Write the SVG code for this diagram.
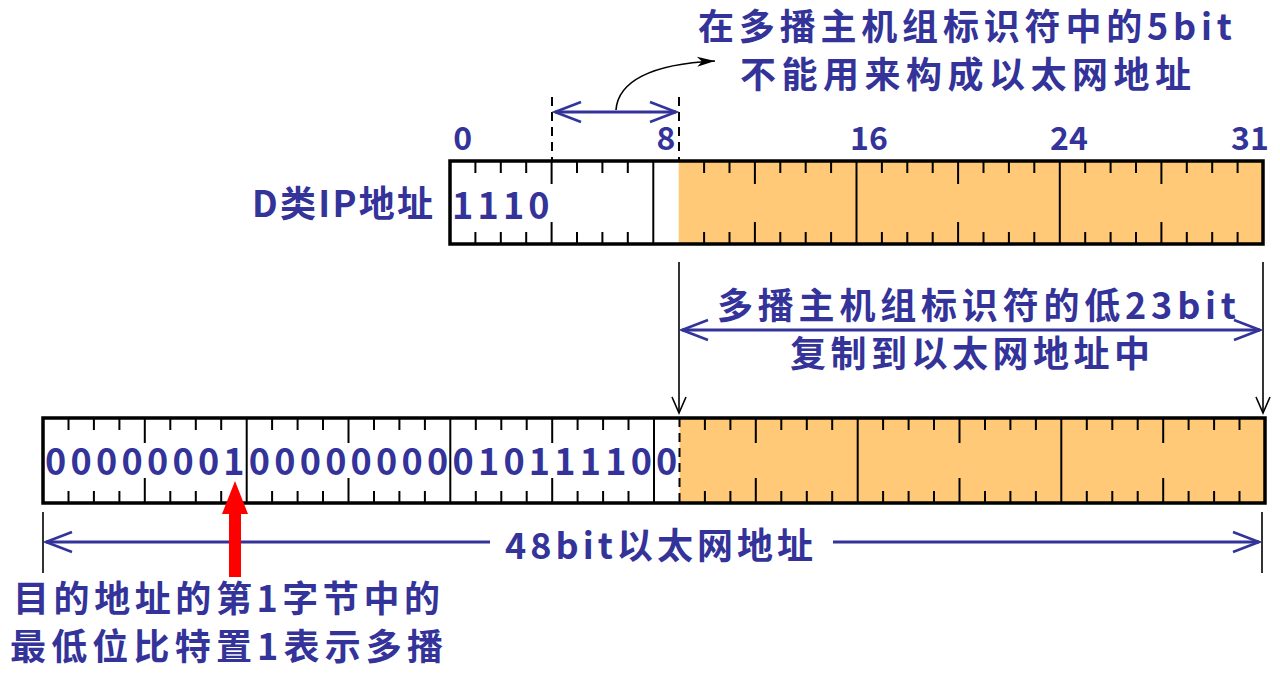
<svg xmlns="http://www.w3.org/2000/svg" width="1280" height="673" viewBox="0 0 1280 673">
<defs>
<style>
.t{font-family:"Noto Sans CJK SC","Noto Sans",sans-serif;font-weight:bold;fill:#333399;}
.big{font-size:36px;}
.num{font-size:32px;}
.dig{font-size:36px;}
.box{fill:none;stroke:#000;stroke-width:3.5;}
.fill{fill:#FFC978;stroke:none;}
.byte{stroke:#000;stroke-width:2;fill:none;}
.tick{stroke:#000;stroke-width:2;fill:none;}
.dash{stroke:#000;stroke-width:2;fill:none;stroke-dasharray:9 6;}
.dim{stroke:#333399;stroke-width:3;fill:none;}
.thin{stroke:#000;stroke-width:1.6;fill:none;}
</style>
<marker id="av" markerUnits="userSpaceOnUse" markerWidth="32" markerHeight="26" viewBox="-29 -13 32 26" refX="0" refY="0" orient="auto-start-reverse">
<path d="M-26,-10 L0,0 L-26,10" fill="none" stroke="#333399" stroke-width="2.5"/>
</marker>
<marker id="bv" markerUnits="userSpaceOnUse" markerWidth="20" markerHeight="20" viewBox="-18 -10 20 20" refX="0" refY="0" orient="auto">
<path d="M-16,-7 L0,0 L-16,7" fill="none" stroke="#000" stroke-width="1.6"/>
</marker>
<marker id="bf" markerUnits="userSpaceOnUse" markerWidth="24" markerHeight="14" viewBox="-20 -7 24 14" refX="0" refY="0" orient="auto">
<path d="M-18,-5 L0,0 L-18,5 L-13,0 Z" fill="#000"/>
</marker>
</defs>
<rect width="1280" height="673" fill="#fff"/>

<g id="note-5bit">
<text class="t big" x="698" y="40" textLength="534" lengthAdjust="spacing">在多播主机组标识符中的5bit</text>
<text class="t big" x="740" y="88" textLength="451" lengthAdjust="spacing">不能用来构成以太网地址</text>
</g>

<g id="bit-labels">
<text class="t num" x="462.7" y="150" text-anchor="middle">0</text>
<text class="t num" x="666" y="150" text-anchor="middle">8</text>
<text class="t num" x="869" y="150" text-anchor="middle">16</text>
<text class="t num" x="1069" y="150" text-anchor="middle">24</text>
<text class="t num" x="1250" y="150" text-anchor="middle">31</text>
</g>

<g id="ip-label">
<text class="t big" x="252" y="217" textLength="181" lengthAdjust="spacing">D类IP地址</text>
</g>

<g id="ip-address">
<rect class="fill" x="678.7" y="161" width="584.3" height="83"/>
<path class="byte" d="M653.3,161V244M856.5,161V244M1059.8,161V244"/>
<path class="tick" d="M475.4,161v12M500.8,161v12M526.2,161v12M577,161v12M602.4,161v12M627.8,161v12M704.1,161v12M729.5,161v12M780.3,161v12M805.7,161v12M831.1,161v12M881.9,161v12M907.3,161v12M932.7,161v12M983.5,161v12M1008.9,161v12M1034.3,161v12M1085.2,161v12M1110.6,161v12M1136,161v12M1186.8,161v12M1212.2,161v12M1237.6,161v12M551.6,161v23M754.9,161v23M958.1,161v23M1161.4,161v23M475.4,244v-12M500.8,244v-12M526.2,244v-12M577,244v-12M602.4,244v-12M627.8,244v-12M704.1,244v-12M729.5,244v-12M780.3,244v-12M805.7,244v-12M831.1,244v-12M881.9,244v-12M907.3,244v-12M932.7,244v-12M983.5,244v-12M1008.9,244v-12M1034.3,244v-12M1085.2,244v-12M1110.6,244v-12M1136,244v-12M1186.8,244v-12M1212.2,244v-12M1237.6,244v-12M551.6,244v-22M754.9,244v-22M958.1,244v-22M1161.4,244v-22"/>
<rect class="box" x="450" y="161" width="813" height="83"/>
<text class="t dig" y="219" text-anchor="middle" x="462.7 488.1 513.5 538.9">1110</text>
</g>

<g id="copy-note">
<text class="t big" x="717" y="319" textLength="519" lengthAdjust="spacing">多播主机组标识符的低23bit</text>
<text class="t big" x="790" y="367" textLength="360" lengthAdjust="spacing">复制到以太网地址中</text>
</g>

<g id="mac-address">
<rect class="fill" x="679.5" y="418" width="585.5" height="85"/>
<path class="byte" d="M246.7,418V503M450.3,418V503M654,418V503M857.7,418V503M1061.3,418V503"/>
<path class="dash" d="M679.5,418V503"/>
<path class="tick" d="M68.5,418v12M93.9,418v12M119.4,418v12M170.3,418v12M195.8,418v12M221.2,418v12M272.1,418v12M297.6,418v12M323,418v12M374,418v12M399.4,418v12M424.9,418v12M475.8,418v12M501.3,418v12M526.7,418v12M577.6,418v12M603.1,418v12M628.5,418v12M704.9,418v12M730.4,418v12M781.3,418v12M806.8,418v12M832.2,418v12M883.1,418v12M908.6,418v12M934,418v12M985,418v12M1010.4,418v12M1035.9,418v12M1086.8,418v12M1112.3,418v12M1137.7,418v12M1188.6,418v12M1214.1,418v12M1239.5,418v12M144.8,418v25M348.5,418v25M552.2,418v25M755.8,418v25M959.5,418v25M1163.2,418v25M68.5,503v-12M93.9,503v-12M119.4,503v-12M170.3,503v-12M195.8,503v-12M221.2,503v-12M272.1,503v-12M297.6,503v-12M323,503v-12M374,503v-12M399.4,503v-12M424.9,503v-12M475.8,503v-12M501.3,503v-12M526.7,503v-12M577.6,503v-12M603.1,503v-12M628.5,503v-12M704.9,503v-12M730.4,503v-12M781.3,503v-12M806.8,503v-12M832.2,503v-12M883.1,503v-12M908.6,503v-12M934,503v-12M985,503v-12M1010.4,503v-12M1035.9,503v-12M1086.8,503v-12M1112.3,503v-12M1137.7,503v-12M1188.6,503v-12M1214.1,503v-12M1239.5,503v-12M144.8,503v-25M348.5,503v-25M552.2,503v-25M755.8,503v-25M959.5,503v-25M1163.2,503v-25"/>
<rect class="box" x="43" y="418" width="1222" height="85"/>
<text class="t dig" y="475" text-anchor="middle" x="55.7 81.2 106.6 132.1 157.6 183 208.5 233.9 259.4 284.9 310.3 335.8 361.2 386.7 412.1 437.6 463.1 488.5 514 539.4 564.9 590.4 615.8 641.3 666.7">0000000100000000010111100</text>
</g>

<g id="mac-label">
<text class="t big" x="505" y="559" textLength="308" lengthAdjust="spacing">48bit以太网地址</text>
</g>

<g id="multicast-note">
<text class="t big" x="13" y="612" textLength="427" lengthAdjust="spacing">目的地址的第1字节中的</text>
<text class="t big" x="10" y="660" textLength="433" lengthAdjust="spacing">最低位比特置1表示多播</text>
</g>

<g id="connectors">
<path class="dash" d="M552,97V160M679,97V160"/>
<path class="dim" d="M555,112H676" marker-start="url(#av)" marker-end="url(#av)"/>
<path class="thin" d="M616,110C618,82 650,64 715,61" marker-end="url(#bf)"/>
<path class="thin" d="M679,262V413" marker-end="url(#bv)"/>
<path class="thin" d="M1263,262V413" marker-end="url(#bv)"/>
<path class="dim" d="M682,330H1260" marker-start="url(#av)" marker-end="url(#av)"/>
<path class="thin" d="M43,512V573M1262,512V573"/>
<path class="dim" d="M46,542H490" marker-start="url(#av)"/>
<path class="dim" d="M833,542H1259" marker-end="url(#av)"/>
<polygon points="235,481 248,514 241,514 241,577 229,577 229,514 222,514" fill="#FF0000"/>
</g>
</svg>
